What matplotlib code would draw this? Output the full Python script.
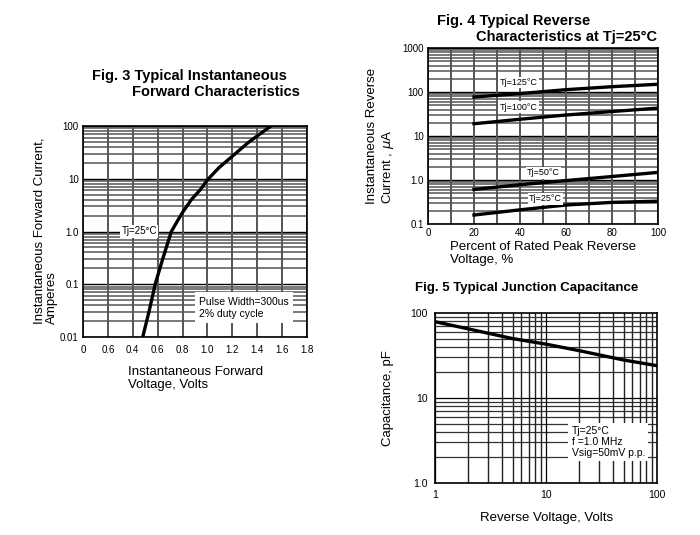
import matplotlib
matplotlib.use("Agg")
import matplotlib.pyplot as plt
import numpy as np
from matplotlib.ticker import NullFormatter, FixedLocator

plt.rcParams['font.family'] = ['Liberation Sans', 'DejaVu Sans']

# ---- Fig 3 data ----
fwd_voltage = [0.48, 0.53, 0.58, 0.64, 0.71, 0.76, 0.80, 0.87, 0.94, 1.0, 1.09, 1.21, 1.33, 1.51]
fwd_current = [0.01, 0.03, 0.1, 0.3, 1.0, 1.6, 2.3, 4.0, 6.1, 9.5, 16, 28, 49, 100]
fig3_xticks = [0, 0.2, 0.4, 0.6, 0.8, 1.0, 1.2, 1.4, 1.6, 1.8]
fig3_xlabels = ["0", "0.6", "0.4", "0.6", "0.8", "1.0", "1.2", "1.4", "1.6", "1.8"]
fig3_yticks = [0.01, 0.1, 1, 10, 100]
fig3_ylabels = ["0.01", "0.1", "1.0", "10", "100"]

# ---- Fig 4 data ----
rev_pct = [20, 40, 60, 80, 100]
rev_125 = [77, 92, 113, 132, 150]
rev_100 = [19, 24, 30, 36, 43]
rev_50 = [0.61, 0.78, 0.97, 1.2, 1.49]
rev_25 = [0.16, 0.21, 0.27, 0.31, 0.33]
fig4_yticks = [0.1, 1, 10, 100, 1000]
fig4_ylabels = ["0.1", "1.0", "10", "100", "1000"]
fig4_xticks = [0, 20, 40, 60, 80, 100]

# ---- Fig 5 data ----
cap_voltage = [1, 2, 5, 10, 20, 50, 100]
cap_pf = [79, 65, 50, 43, 36, 28, 24]
fig5_yticks = [1, 10, 100]
fig5_ylabels = ["1.0", "10", "100"]
fig5_xticks = [1, 10, 100]
fig5_xlabels = ["1", "10", "100"]

fig = plt.figure(figsize=(7.0, 5.35), dpi=100)
W, H = 700, 535


def axes_px(l, t, r, b):
    return fig.add_axes([l / W, 1 - b / H, (r - l) / W, (b - t) / H])


def decades(lo, hi):
    out = []
    v = lo
    while v <= hi * 1.0001:
        out.append(v)
        v *= 10
    return out


def log_grid_y(ax, lo, hi):
    for dec in decades(lo, hi)[:-1]:
        for m in range(2, 10):
            ax.axhline(dec * m, color='#6e6e6e', lw=1.3, zorder=1)
    for v in decades(lo, hi):
        ax.axhline(v, color='black', lw=1.0, zorder=1)


def style(ax):
    for s in ax.spines.values():
        s.set_linewidth(1.2)
        s.set_color('black')
    ax.tick_params(length=0, labelsize=7, pad=3)
    ax.tick_params(which='minor', length=0)


# ---------------- Fig 3 ----------------
ax3 = axes_px(83, 126, 307, 337)
ax3.set_yscale('log')
ax3.set_xlim(0, 1.8)
ax3.set_ylim(0.01, 100)
log_grid_y(ax3, 0.01, 100)
for x in fig3_xticks:
    ax3.axvline(x, color='#555555', lw=1.4, zorder=1)
ax3.plot(fwd_voltage, fwd_current, color='black', lw=2.4, zorder=3,
         solid_joinstyle='round', solid_capstyle='butt')
ax3.set_xticks(fig3_xticks)
ax3.set_xticklabels(fig3_xlabels)
ax3.yaxis.set_major_locator(FixedLocator(fig3_yticks))
ax3.set_yticklabels(fig3_ylabels)
ax3.yaxis.set_minor_formatter(NullFormatter())
style(ax3)
ax3.tick_params(axis='x', pad=6)
ax3.text(0.31, 1.0, "Tj=25\u00b0C", fontsize=7, ha='left', va='center', zorder=4,
         bbox=dict(facecolor='white', edgecolor='none', pad=1))
ax3.text(0.93, 0.036, "Pulse Width=300us\n2% duty cycle", fontsize=7.5, ha='left', va='center',
         zorder=4, linespacing=1.25,
         bbox=dict(facecolor='white', edgecolor='none', boxstyle='square,pad=0.4'))
fig.text(92 / W, 1 - 76 / H, "Fig. 3 Typical Instantaneous", fontsize=10.5, fontweight='bold',
         ha='left', va='center')
fig.text(132 / W, 1 - 92 / H, "Forward Characteristics", fontsize=10.5, fontweight='bold',
         ha='left', va='center')
fig.text(46 / W, 1 - 324 / H, "Instantaneous Forward Current,\nAmperes", fontsize=9.5,
         rotation=90, ha='center', va='bottom', multialignment='left', linespacing=1.1)
fig.text(128 / W, 1 - 366 / H, "Instantaneous Forward\nVoltage, Volts", fontsize=9.5,
         ha='left', va='top', linespacing=1.15)

# ---------------- Fig 4 ----------------
ax4 = axes_px(428, 48, 658, 224)
ax4.set_yscale('log')
ax4.set_xlim(0, 100)
ax4.set_ylim(0.1, 1000)
log_grid_y(ax4, 0.1, 1000)
for x in range(0, 101, 10):
    ax4.axvline(x, color='#555555', lw=1.4, zorder=1)
for series in (rev_125, rev_100, rev_50, rev_25):
    ax4.plot(rev_pct, series, color='black', lw=2.4, zorder=3)
ax4.set_xticks(fig4_xticks)
ax4.yaxis.set_major_locator(FixedLocator(fig4_yticks))
ax4.set_yticklabels(fig4_ylabels)
ax4.yaxis.set_minor_formatter(NullFormatter())
style(ax4)
lbl = dict(fontsize=6.5, ha='left', va='center', zorder=4,
           bbox=dict(facecolor='white', edgecolor='none', pad=1))
ax4.text(31, 165, "Tj=125\u00b0C", **lbl)
ax4.text(31, 45, "Tj=100\u00b0C", **lbl)
ax4.text(43, 1.45, "Tj=50\u00b0C", **lbl)
ax4.text(44, 0.37, "Tj=25\u00b0C", **lbl)
fig.text(437 / W, 1 - 21 / H, "Fig. 4 Typical Reverse", fontsize=10.5, fontweight='bold',
         ha='left', va='center')
fig.text(476 / W, 1 - 37 / H, "Characteristics at Tj=25\u00b0C", fontsize=10.5,
         fontweight='bold', ha='left', va='center')
fig.text(381 / W, 1 - 204 / H, "Instantaneous Reverse\nCurrent , $\\mu$A", fontsize=9.5,
         rotation=90, ha='center', va='bottom', multialignment='left', linespacing=1.1)
fig.text(450 / W, 1 - 241 / H, "Percent of Rated Peak Reverse\nVoltage, %", fontsize=9.5,
         ha='left', va='top', linespacing=1.15)

# ---------------- Fig 5 ----------------
ax5 = axes_px(435, 313, 657, 483)
ax5.set_xscale('log')
ax5.set_yscale('log')
ax5.set_xlim(1, 100)
ax5.set_ylim(1, 100)
for dec in (1, 10):
    for m in range(2, 10):
        ax5.axhline(dec * m, color='#333333', lw=0.9, zorder=1)
        ax5.axvline(dec * m, color='#222222', lw=1.0, zorder=1)
    ax5.axhline(dec, color='black', lw=0.9, zorder=1)
    ax5.axvline(dec, color='black', lw=0.9, zorder=1)
ax5.plot(cap_voltage, cap_pf, color='black', lw=2.4, zorder=3)
ax5.xaxis.set_major_locator(FixedLocator(fig5_xticks))
ax5.set_xticklabels(fig5_xlabels)
ax5.yaxis.set_major_locator(FixedLocator(fig5_yticks))
ax5.set_yticklabels(fig5_ylabels)
ax5.xaxis.set_minor_formatter(NullFormatter())
ax5.yaxis.set_minor_formatter(NullFormatter())
style(ax5)
ax5.tick_params(labelsize=7.5, pad=5)
ax5.text(0.615, 0.15, "Tj=25\u00b0C\nf =1.0 MHz\nVsig=50mV p.p.", transform=ax5.transAxes,
         fontsize=7.5, ha='left', va='bottom', zorder=4, linespacing=1.1,
         bbox=dict(facecolor='white', edgecolor='none', boxstyle='square,pad=0.3'))
fig.text(527 / W, 1 - 288 / H, "Fig. 5 Typical Junction Capacitance", fontsize=9.5,
         fontweight='bold', ha='center', va='center')
fig.text(388 / W, 1 - 398 / H, "Capacitance, pF", fontsize=9.5, rotation=90,
         ha='center', va='center')
fig.text(547 / W, 1 - 518 / H, "Reverse Voltage, Volts", fontsize=9.5, ha='center', va='center')

fig.savefig("out.png", dpi=100)
